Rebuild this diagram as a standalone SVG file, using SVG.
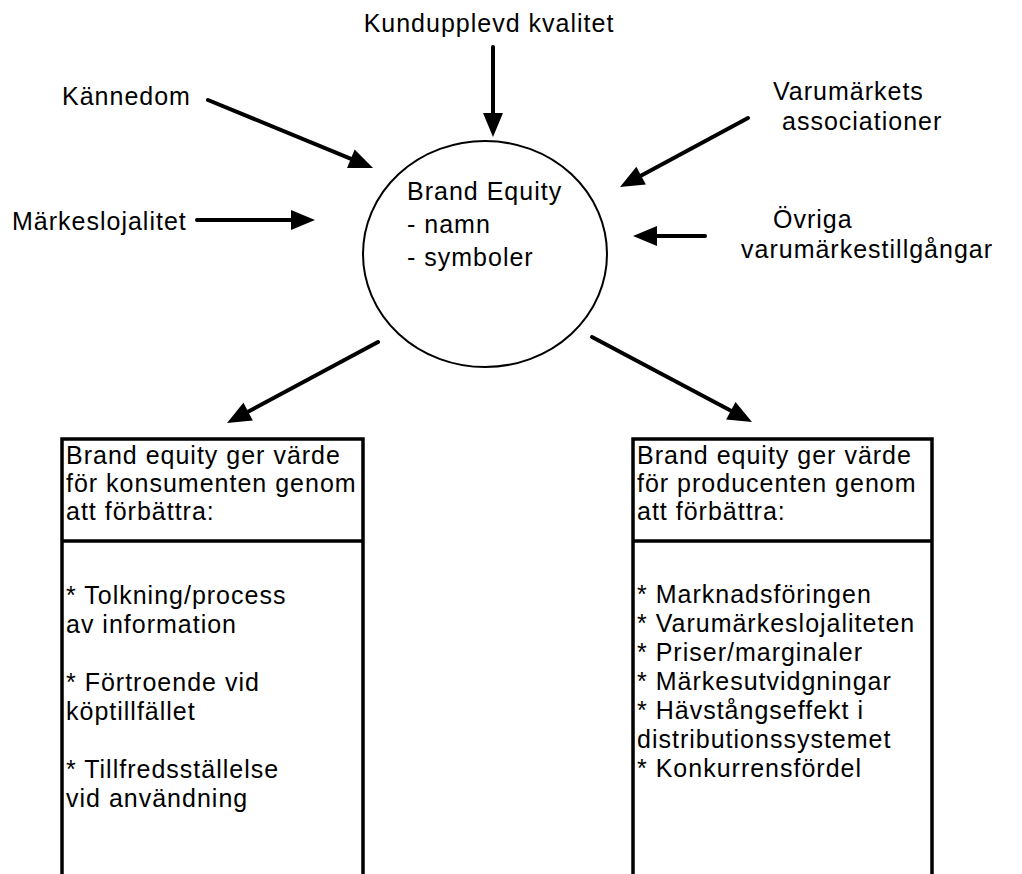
<svg xmlns="http://www.w3.org/2000/svg" width="1022" height="874" viewBox="0 0 1022 874">
<style>
text{font-family:"Liberation Sans",Arial,sans-serif;font-size:25px;letter-spacing:1px;fill:#000}
.c{fill:none;stroke:#000;stroke-width:4;stroke-linecap:round}
.b{fill:none;stroke:#000;stroke-width:3.5}
</style>
<defs>
<marker id="ah" markerUnits="userSpaceOnUse" markerWidth="24" markerHeight="20" refX="14" refY="10" orient="auto" overflow="visible">
<path d="M0,0 L24,10 L0,20 z" fill="#000"/>
</marker>
</defs>
<rect width="1022" height="874" fill="#fff"/>
<g id="connectors">
<line class="c" x1="493" y1="47" x2="493" y2="127" marker-end="url(#ah)"/>
<line class="c" x1="208" y1="100" x2="363.8" y2="164.2" marker-end="url(#ah)"/>
<line class="c" x1="197" y1="220" x2="305" y2="220" marker-end="url(#ah)"/>
<line class="c" x1="748" y1="118" x2="628.8" y2="182.3" marker-end="url(#ah)"/>
<line class="c" x1="705" y1="236" x2="643" y2="236" marker-end="url(#ah)"/>
<line class="c" x1="378" y1="342" x2="235.8" y2="418.3" marker-end="url(#ah)"/>
<line class="c" x1="592" y1="337" x2="743.2" y2="417.3" marker-end="url(#ah)"/>
</g>
<g id="kvalitet"><text x="489" y="32" text-anchor="middle">Kundupplevd kvalitet</text></g>
<g id="kannedom"><text x="62" y="105">Kännedom</text></g>
<g id="lojalitet"><text x="12" y="230">Märkeslojalitet</text></g>
<g id="associationer"><text x="773" y="100">Varumärkets</text><text x="782" y="130">associationer</text></g>
<g id="ovriga"><text x="773" y="228">Övriga</text><text x="741" y="258">varumärkestillgångar</text></g>
<g id="brandequity">
<ellipse cx="485" cy="254" rx="122" ry="113" fill="none" stroke="#000" stroke-width="2"/>
<text x="407" y="200">Brand Equity</text>
<text x="407" y="233">- namn</text>
<text x="407" y="266">- symboler</text>
</g>
<g id="konsument">
<path class="b" d="M62,874 V439 H363 V874 M62,541 H363"/>
<text x="66" y="464">Brand equity ger värde</text>
<text x="66" y="492">för konsumenten genom</text>
<text x="66" y="520">att förbättra:</text>
<text x="66" y="604">* Tolkning/process</text>
<text x="66" y="633">av information</text>
<text x="66" y="691">* Förtroende vid</text>
<text x="66" y="720">köptillfället</text>
<text x="66" y="778">* Tillfredsställelse</text>
<text x="66" y="807">vid användning</text>
</g>
<g id="producent">
<path class="b" d="M633,874 V439 H932 V874 M633,541 H932"/>
<text x="637" y="464">Brand equity ger värde</text>
<text x="637" y="492">för producenten genom</text>
<text x="637" y="520">att förbättra:</text>
<text x="637" y="603">* Marknadsföringen</text>
<text x="637" y="632">* Varumärkeslojaliteten</text>
<text x="637" y="661">* Priser/marginaler</text>
<text x="637" y="690">* Märkesutvidgningar</text>
<text x="637" y="719">* Hävstångseffekt i</text>
<text x="637" y="748">distributionssystemet</text>
<text x="637" y="777">* Konkurrensfördel</text>
</g>
</svg>
